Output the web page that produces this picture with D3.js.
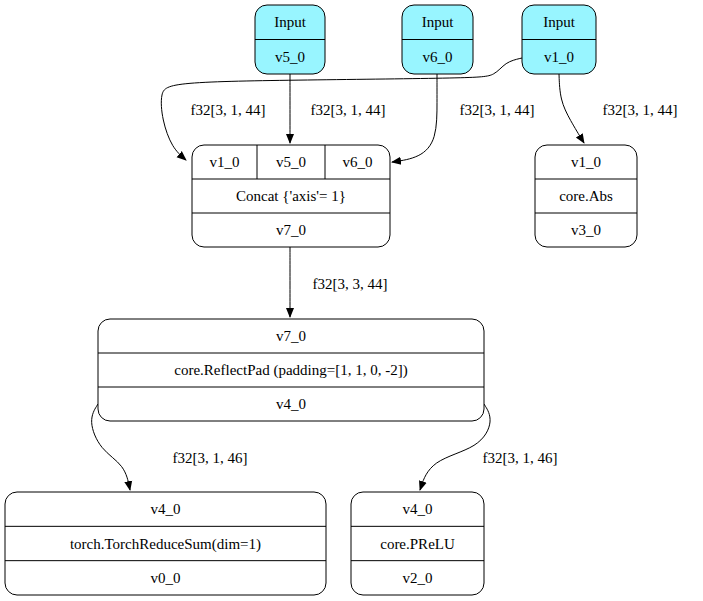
<!DOCTYPE html>
<html><head><meta charset="utf-8">
<script src="https://cdn.jsdelivr.net/npm/d3@7"></script>
<style>body{margin:0;background:#fff}</style></head>
<body><svg id="c" width="703" height="601"></svg>
<script>
// node content
const nodeIds = ["in5","in6","in1","concat","abs","pad","sum","prelu"];
const nodeRows = [
  [["Input"],["v5_0"]],
  [["Input"],["v6_0"]],
  [["Input"],["v1_0"]],
  [["v1_0","v5_0","v6_0"],["Concat {'axis'= 1}"],["v7_0"]],
  [["v1_0"],["core.Abs"],["v3_0"]],
  [["v7_0"],["core.ReflectPad (padding=[1, 1, 0, -2])"],["v4_0"]],
  [["v4_0"],["torch.TorchReduceSum(dim=1)"],["v0_0"]],
  [["v4_0"],["core.PReLU"],["v2_0"]]
];
const nodeFill = ["#98f5ff","#98f5ff","#98f5ff","#fff","#fff","#fff","#fff","#fff"];
// layout boxes [x0,y0,x1,y1]
const nodeBox = [[255,5,325,74],[402,5,473,74],[522,5,596,74],[192,145,390,247],[535,145,637,247],[98,319,484,421],[5,492,326,595],[351,492,484,595]];
const cellSplits = {concat:[257,325]};
const edgeLabels = ["f32[3, 1, 44]","f32[3, 1, 44]","f32[3, 1, 44]","f32[3, 1, 44]","f32[3, 3, 44]","f32[3, 1, 46]","f32[3, 1, 46]"];
const edgePaths = [
  [[522,58],[505,62],[495,76],[475,78],[300,80],[170,82],[160,92],[162,120],[172,148],[186,160]],
  [[290,74],[290,110],[290,143]],
  [[437,74],[437,100],[437,140],[420,158],[392,162]],
  [[559,74],[560,100],[570,120],[584,143]],
  [[290,247],[290,280],[290,317]],
  [[98,404],[88,420],[100,450],[125,465],[130,490]],
  [[484,404],[494,420],[480,448],[430,460],[420,490]]
];
const labelPos = [[228,115],[348,115],[497,115],[640,115],[350,289],[210,463],[520,463]];

const svg = d3.select("#c");
svg.append("defs").append("marker").attr("id","a").attr("viewBox","0 0 10 10")
  .attr("refX",9).attr("refY",5).attr("markerWidth",10).attr("markerHeight",10)
  .attr("markerUnits","userSpaceOnUse").attr("orient","auto")
  .append("path").attr("d","M0,1 L10,5 L0,9 Z").attr("fill","#000");
const font = "'Liberation Serif','DejaVu Serif',serif";
const line = d3.line().curve(d3.curveBasis);
edgePaths.forEach((p,i)=>{
  svg.append("path").attr("d",line(p)).attr("fill","none").attr("stroke","#000").attr("stroke-width",1).attr("marker-end","url(#a)");
  svg.append("text").attr("x",labelPos[i][0]).attr("y",labelPos[i][1]).attr("text-anchor","middle")
    .attr("font-family",font).attr("font-size",15).text(edgeLabels[i]);
});
nodeIds.forEach((id,i)=>{
  const [x0,y0,x1,y1]=nodeBox[i], rows=nodeRows[i];
  const g=svg.append("g");
  g.append("rect").attr("x",x0).attr("y",y0).attr("width",x1-x0).attr("height",y1-y0)
    .attr("rx",12).attr("fill",nodeFill[i]).attr("stroke","#000");
  const y=d3.scaleLinear().domain([0,rows.length]).range([y0,y1]);
  rows.forEach((r,k)=>{
    if(k>0) g.append("line").attr("x1",x0).attr("x2",x1).attr("y1",y(k)).attr("y2",y(k)).attr("stroke","#000");
    const xs=r.length>1?[x0,...cellSplits[id],x1]:[x0,x1];
    r.forEach((t,j)=>{
      if(j>0) g.append("line").attr("x1",xs[j]).attr("x2",xs[j]).attr("y1",y(k)).attr("y2",y(k+1)).attr("stroke","#000");
      g.append("text").attr("x",(xs[j]+xs[j+1])/2).attr("y",(y(k)+y(k+1))/2+5).attr("text-anchor","middle")
        .attr("font-family",font).attr("font-size",15).text(t);
    });
  });
});
</script></body></html>
